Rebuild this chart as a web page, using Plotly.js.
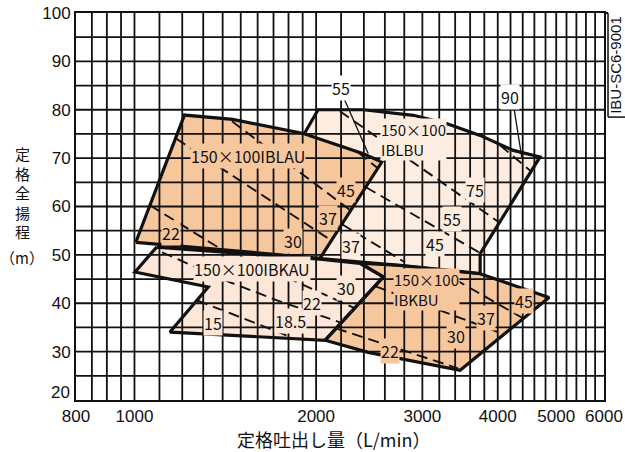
<!DOCTYPE html>
<html><head><meta charset="utf-8">
<script src="https://cdn.plot.ly/plotly-3.0.1.min.js"></script>
<style>html,body{margin:0;padding:0;background:#fff;}#chart{width:625px;height:452px;}</style>
</head><body><div id="chart"></div>
<script>
// ---- axis ticks and grid positions ----
const xTickVals = [800, 1000, 2000, 3000, 4000, 5000, 6000];
const yTickVals = [20, 30, 40, 50, 60, 70, 80, 90, 100];
const xGrid = [850, 900, 950, 1000, 1100, 1200, 1300, 1400, 1500, 1600, 1700, 1800, 1900,
  2000, 2200, 2400, 2600, 2800, 3000, 3200, 3400, 3600, 3800, 4000, 4200, 4400, 4600, 4800,
  5000, 5200, 5400, 5600, 5800];
const yGrid = [25, 30, 35, 40, 45, 50, 55, 60, 65, 70, 75, 80, 85, 90, 95];

// ---- pump ranges (flow L/min, head m) ----
const blauX = [1005, 1210, 1455, 1905, 2395, 2570, 2030];
const blauY = [52.6, 78.9, 78.0, 75.1, 70.9, 69.2, 49.3];
const blbuX = [1915, 2015, 2395, 2900, 3290, 3740, 4245, 4700, 3740, 3740, 2755, 2030];
const blbuY = [75.2, 80.0, 80.0, 78.85, 77.15, 74.7, 71.6, 70.25, 50.25, 46.15, 47.85, 49.25];
const bkauX = [1088, 2030, 2365, 2585, 2070, 1145, 1325, 1002];
const bkauY = [51.6, 49.1, 48.25, 45.45, 32.35, 34.05, 43.35, 46.45];
const bkbuX = [2365, 2755, 3740, 4865, 3465, 2440, 2070, 2585];
const bkbuY = [48.3, 47.8, 46.1, 41.2, 26.15, 29.85, 32.35, 45.45];

// ---- motor output boundary lines (dashed) ----
const blauDashX = [[1061, 1397], [1172, 2117], [1451, 2280], [2347, 2531]];
const blauDashY = [[60.25, 51.05], [74.04, 53.01], [77.6, 59.21], [71.2, 67.9]];
const blbuDashX = [[4035, 4541], [2190, 4019], [2419, 3724], [2208, 2807]];
const blbuDashY = [[72.65, 67.28], [79.7, 56.73], [63.97, 50.53], [56.32, 48.47]];
const bkauDashX = [[1270, 1811], [1111, 1440, 1723, 2190], [1496, 2320]];
const bkauDashY = [[40.61, 33.06], [50.53, 44.33, 40.61, 36.06], [49.71, 38.96]];
const bkbuDashX = [[2158, 3437], [2509, 4097], [3209, 4405]];
const bkbuDashY = [[34.82, 26.55], [43.5, 33.58], [46.7, 36.89]];
const leaderX = [[2219, 2440], [4244, 4383]];
const leaderY = [[82.64, 70.94], [81.27, 70.23]];

// ---- labels ----
const blauLabText = ['150×100IBLAU', '22', '30', '37', '45'];
const blauLabX = [1542, 1149, 1828, 2089, 2241];
const blauLabY = [70.38, 54.46, 52.81, 57.56, 63.35];
const blbuLabText = ['150×100<br>IBLBU', '37', '45', '55', '75'];
const blbuLabX = [2553, 2285, 3149, 3359, 3667];
const blbuLabY = [73.9, 51.77, 52.19, 57.46, 63.35];
const blbuLabAnchor = ['left', 'center', 'center', 'center', 'center'];
const outLabText = ['55', '90'];
const outLabX = [2199, 4192];
const outLabY = [84.43, 82.68];
const bkauLabText = ['150×100IBKAU', '15', '18.5', '22', '30'];
const bkauLabX = [1564, 1347, 1811, 1969, 2241];
const bkauLabY = [47.16, 35.96, 36.27, 39.99, 43.09];
const bkbuLabText = ['150×100<br>IBKBU', '22', '30', '37', '45'];
const bkbuLabX = [2682, 2652, 3411, 3825, 4422];
const bkbuLabY = [42.93, 30.07, 33.17, 36.89, 40.4];
const bkbuLabAnchor = ['left', 'center', 'center', 'center', 'center'];

const yTitleText = ['定<br>格<br>全<br>揚<br>程', '（m）'];
const yTitleY = [62.83, 49.4];

// ---- styles ----
const FONT = '"Noto Sans CJK JP", "Noto Sans", sans-serif';
const TICKFONT = '"Liberation Sans", Arial, sans-serif';
const INK = '#111111';
const DARK = 'rgb(246,198,157)';
const LIGHT1 = 'rgb(253,237,225)';
const LIGHT2 = 'rgb(252,231,216)';

function close(a) { return a.concat([a[0]]); }
const traces = [];
function fillTrace(x, y, c) {
  traces.push({x: x, y: y, type: 'scatter', mode: 'none', fill: 'toself', fillcolor: c, hoverinfo: 'skip'});
}
fillTrace(blbuX, blbuY, LIGHT1);
fillTrace(bkauX, bkauY, LIGHT2);
fillTrace(blauX, blauY, DARK);
fillTrace(bkbuX, bkbuY, DARK);

// grid drawn over the fills
const gvx = [], gvy = [];
xGrid.forEach(v => { gvx.push(v, v, null); gvy.push(20, 100, null); });
const ghx = [], ghy = [];
yGrid.forEach(v => { ghx.push(800, 6000, null); ghy.push(v, v, null); });
traces.push({x: gvx, y: gvy, type: 'scatter', mode: 'lines', line: {color: INK, width: 1.8}, hoverinfo: 'skip'});
traces.push({x: ghx, y: ghy, type: 'scatter', mode: 'lines', line: {color: INK, width: 1.8}, hoverinfo: 'skip'});

function outline(x, y) {
  traces.push({x: x, y: y, type: 'scatter', mode: 'lines', line: {color: INK, width: 3.2}, hoverinfo: 'skip'});
}
outline(blbuX, blbuY);
outline(close(bkauX), close(bkauY));
outline(close(blauX), close(blauY));
outline(close(bkbuX), close(bkbuY));

function dashes(xs, ys) {
  xs.forEach((x, i) => traces.push({x: x, y: ys[i], type: 'scatter', mode: 'lines',
    line: {color: INK, width: 1.9, dash: '11px,6px'}, hoverinfo: 'skip'}));
}
dashes(blauDashX, blauDashY);
dashes(blbuDashX, blbuDashY);
dashes(bkauDashX, bkauDashY);
dashes(bkbuDashX, bkbuDashY);
leaderX.forEach((x, i) => traces.push({x: x, y: leaderY[i], type: 'scatter', mode: 'lines',
  line: {color: INK, width: 1.3}, hoverinfo: 'skip'}));

const ann = [];
function labels(txt, xs, ys, bg, anchors) {
  txt.forEach((t, i) => ann.push({x: Math.log10(xs[i]), y: ys[i], xref: 'x', yref: 'y', text: t,
    showarrow: false, xanchor: anchors ? anchors[i] : 'center', yanchor: 'middle',
    align: anchors ? anchors[i] : 'center',
    bgcolor: bg, borderpad: 0, font: {family: FONT, size: (t.indexOf('<br>') >= 0 ? 15 : 16), color: INK}}));
}
labels(blauLabText, blauLabX, blauLabY, DARK);
labels(blbuLabText, blbuLabX, blbuLabY, LIGHT1, blbuLabAnchor);
labels(outLabText, outLabX, outLabY, '#ffffff');
labels(bkauLabText, bkauLabX, bkauLabY, LIGHT2);
labels(bkbuLabText, bkbuLabX, bkbuLabY, DARK, bkbuLabAnchor);

// lowest y tick label sits a little above the corner, as in the original
const yTickText = yTickVals.map(v => v === 20 ? '' : String(v));
ann.push({x: -0.0076, xref: 'paper', y: 21.6, yref: 'y', text: String(yTickVals[0]), showarrow: false,
  xanchor: 'right', yanchor: 'middle', font: {family: TICKFONT, size: 17, color: INK}});

yTitleText.forEach((c, i) => ann.push({x: -0.102, xref: 'paper', y: yTitleY[i], yref: 'y', text: c,
  showarrow: false, xanchor: 'center', yanchor: 'middle', font: {family: FONT, size: 15, color: INK}}));
ann.push({x: 0.487, xref: 'paper', y: -0.101, yref: 'paper', text: '定格吐出し量（L/min）', showarrow: false,
  xanchor: 'center', yanchor: 'middle', font: {family: FONT, size: 18, color: INK}});
ann.push({x: 1.0215, xref: 'paper', y: 0.867, yref: 'paper', text: 'IBU-SC6-9001', showarrow: false,
  textangle: -90, xanchor: 'center', yanchor: 'middle',
  font: {family: TICKFONT, size: 15, color: INK}});

const layout = {
  width: 625, height: 452,
  margin: {l: 76, r: 21, t: 13, b: 52, pad: 0},
  paper_bgcolor: '#ffffff', plot_bgcolor: '#ffffff',
  showlegend: false,
  xaxis: {type: 'log', range: [Math.log10(800), Math.log10(6000)], tickvals: xTickVals,
    ticktext: xTickVals.map(String), showgrid: false, zeroline: false, showline: true,
    linecolor: INK, linewidth: 2, mirror: true, ticks: '', ticklabeloverflow: 'allow',
    tickfont: {family: TICKFONT, size: 17, color: INK}},
  yaxis: {range: [20, 100], tickvals: yTickVals, ticktext: yTickText, showgrid: false, zeroline: false,
    showline: true, linecolor: INK, linewidth: 2, mirror: true, ticks: '', ticklabeloverflow: 'allow',
    tickfont: {family: TICKFONT, size: 17, color: INK}},
  annotations: ann,
  shapes: [
    {type: 'line', xref: 'paper', yref: 'paper', x0: 1.0, x1: 1.0076, y0: 1.0, y1: 1.0, line: {color: INK, width: 2}},
    {type: 'line', xref: 'paper', yref: 'paper', x0: 1.0076, x1: 1.0076, y0: 1.0, y1: 0.731, line: {color: INK, width: 1.5}},
    {type: 'line', xref: 'paper', yref: 'paper', x0: 1.0076, x1: 1.04, y0: 0.731, y1: 0.731, line: {color: INK, width: 1.5}}
  ]
};
Plotly.newPlot('chart', traces, layout, {staticPlot: true, displayModeBar: false});
</script></body></html>
